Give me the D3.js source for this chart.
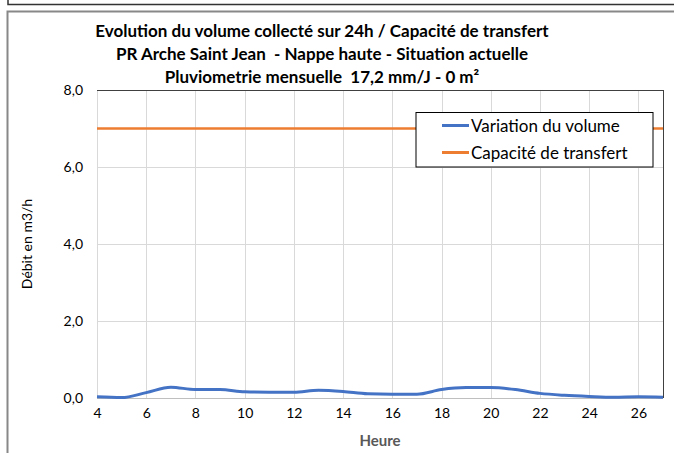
<!DOCTYPE html>
<html>
<head>
<meta charset="utf-8">
<script src="https://cdn.jsdelivr.net/npm/d3@7"></script>
<style>
  body { margin: 0; background: #fff; }
  svg { font-family: Lato, 'Open Sans', sans-serif; }
  text { white-space: pre; }
</style>
</head>
<body>
<svg id="chart" width="674" height="453"></svg>
<script>
var hours = [4, 5, 6, 7, 8, 9, 10, 11, 12, 13, 14, 15, 16, 17, 18, 19, 20, 21, 22, 23, 24, 25, 26, 27];
var volume = [0.03, 0.01, 0.14, 0.28, 0.22, 0.22, 0.16, 0.15, 0.15, 0.2, 0.17, 0.11, 0.1, 0.1, 0.22, 0.27, 0.27, 0.22, 0.12, 0.07, 0.04, 0.02, 0.03, 0.02];
var capacite = 7;
var xTicks = [4, 6, 8, 10, 12, 14, 16, 18, 20, 22, 24, 26];
var yTicks = [0, 2, 4, 6, 8];
var titleLines = ['Evolution du volume collecté sur 24h / Capacité de transfert',
                  'PR Arche Saint Jean  - Nappe haute - Situation actuelle',
                  'Pluviometrie mensuelle  17,2 mm/J - 0 m²'];
var seriesNames = ['Variation du volume', 'Capacité de transfert'];
var colors = ['#4472c4', '#ed7d31'];

var svg = d3.select('#chart');
var plotLeft = 97, plotRight = 663, plotTop = 90, plotBottom = 398;

// frames
svg.append('path')
  .attr('d', 'M8,0 V4.5 H674')
  .attr('fill', 'none').attr('stroke', '#333').attr('stroke-width', 1.5);
svg.append('path')
  .attr('d', 'M7.5,453 V11.5 H674')
  .attr('fill', 'none').attr('stroke', '#888').attr('stroke-width', 2);

var xScale = d3.scaleLinear().domain([4, 27]).range([plotLeft, plotRight]);
var yScale = d3.scaleLinear().domain([0, 8]).range([plotBottom, plotTop]);

// gridlines
svg.append('g').selectAll('line').data(xTicks)
  .join('line')
  .attr('x1', d => Math.round(xScale(d)) + 0.5).attr('x2', d => Math.round(xScale(d)) + 0.5)
  .attr('y1', plotTop).attr('y2', plotBottom)
  .attr('stroke', '#d9d9d9');
svg.append('g').selectAll('line').data(yTicks)
  .join('line')
  .attr('x1', plotLeft).attr('x2', plotRight)
  .attr('y1', d => Math.round(yScale(d)) + 0.5).attr('y2', d => Math.round(yScale(d)) + 0.5)
  .attr('stroke', d => d === 8 ? '#404040' : (d === 0 ? '#bfbfbf' : '#d9d9d9'));
svg.append('line')
  .attr('x1', plotRight + 0.5).attr('x2', plotRight + 0.5)
  .attr('y1', plotTop).attr('y2', plotBottom)
  .attr('stroke', '#404040');

// axes
var xAxis = d3.axisBottom(xScale).tickValues(xTicks).tickSize(0).tickPadding(10);
var yAxis = d3.axisLeft(yScale).tickValues(yTicks).tickSize(0).tickPadding(14)
  .tickFormat(d => d3.format('.1f')(d).replace('.', ','));
svg.append('g')
  .attr('transform', `translate(0, ${plotBottom})`)
  .call(xAxis)
  .call(g => g.select('.domain').remove())
  .selectAll('text').attr('font-size', 14).attr('fill', '#000').attr('font-family', 'Lato');
svg.append('g')
  .attr('transform', `translate(${plotLeft}, 0)`)
  .call(yAxis)
  .call(g => g.select('.domain').remove())
  .selectAll('text').attr('font-size', 14).attr('fill', '#000').attr('font-family', 'Lato');

// series
svg.append('line')
  .attr('x1', plotLeft).attr('x2', plotRight)
  .attr('y1', yScale(capacite)).attr('y2', yScale(capacite))
  .attr('stroke', colors[1]).attr('stroke-width', 2.5);

var line = d3.line()
  .x((d, i) => xScale(hours[i]))
  .y(d => yScale(d))
  .curve(d3.curveMonotoneX);
svg.append('path')
  .datum(volume)
  .attr('d', line)
  .attr('fill', 'none')
  .attr('stroke', colors[0])
  .attr('stroke-width', 3);

// titles
svg.append('g').selectAll('text').data(titleLines)
  .join('text')
  .attr('x', 322)
  .attr('y', (d, i) => 37 + i * 23)
  .attr('text-anchor', 'middle')
  .attr('font-weight', 'bold')
  .attr('font-size', 17)
  .attr('fill', '#000')
  .text(d => d);

svg.append('text')
  .attr('x', 380).attr('y', 446)
  .attr('text-anchor', 'middle')
  .attr('font-weight', 'bold')
  .attr('font-size', 15)
  .attr('fill', '#595959')
  .text('Heure');

svg.append('text')
  .attr('transform', 'translate(32, 244) rotate(-90)')
  .attr('text-anchor', 'middle')
  .attr('font-size', 14)
  .attr('fill', '#000')
  .text('Débit en m3/h');

// legend
var legend = svg.append('g');
legend.append('rect')
  .attr('x', 416).attr('y', 112.5).attr('width', 237).attr('height', 54.5)
  .attr('fill', '#fff').attr('stroke', '#000');
seriesNames.forEach(function(name, i) {
  var y = 125.5 + i * 27;
  legend.append('line')
    .attr('x1', 442).attr('x2', 469).attr('y1', y).attr('y2', y)
    .attr('stroke', colors[i]).attr('stroke-width', 3);
  legend.append('text')
    .attr('x', 471).attr('y', y + 6)
    .attr('font-size', 17)
    .attr('fill', '#000')
    .text(name);
});
</script>
</body>
</html>
